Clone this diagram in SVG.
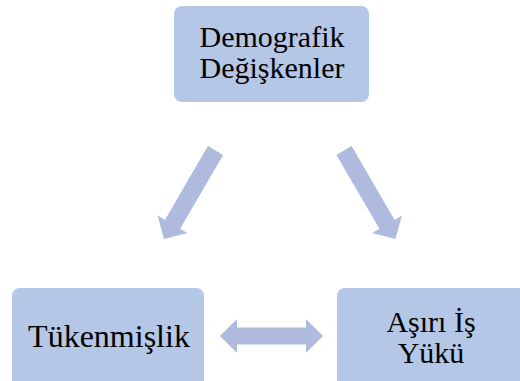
<svg xmlns="http://www.w3.org/2000/svg" width="520" height="381" viewBox="0 0 520 381">
<style>
.box{fill:#B4C7E7;}
.arr{fill:#AEBBDF;}
.lbl{font-family:'Liberation Serif','Times New Roman',serif;font-size:30px;fill:#000;text-anchor:middle;}
</style>
<rect width="520" height="381" fill="#FFFFFF"/>
<g id="connectors">
<polygon class="arr" points="223.1,154.9 180.1,228.7 187.4,233 164,239 157.6,215.6 164.9,219.9 207.9,146.1"/>
<polygon class="arr" points="336.4,154.9 379.4,228.7 372.1,233 395.5,239 401.9,215.6 394.6,219.9 351.6,146.1"/>
<polygon class="arr" points="220,336 237,319 237,327.5 306,327.5 306,319 323,336 306,353 306,344.5 237,344.5 237,353"/>
</g>
<g id="node-demografik">
<rect class="box" x="174" y="6" width="195" height="96" rx="8"/>
<text class="lbl" x="272" y="47" font-family="Liberation Serif, serif">Demografik</text>
<text class="lbl" x="272" y="78" font-family="Liberation Serif, serif">Değişkenler</text>
</g>
<g id="node-tukenmislik">
<rect class="box" x="12" y="288" width="192" height="100" rx="8"/>
<text class="lbl" x="109" y="347" font-family="Liberation Serif, serif" style="font-size:32px">Tükenmişlik</text>
</g>
<g id="node-asiri-is-yuku">
<rect class="box" x="337" y="288" width="192" height="100" rx="8"/>
<text class="lbl" x="431" y="332" font-family="Liberation Serif, serif">Aşırı İş</text>
<text class="lbl" x="431" y="363" font-family="Liberation Serif, serif">Yükü</text>
</g>
</svg>
